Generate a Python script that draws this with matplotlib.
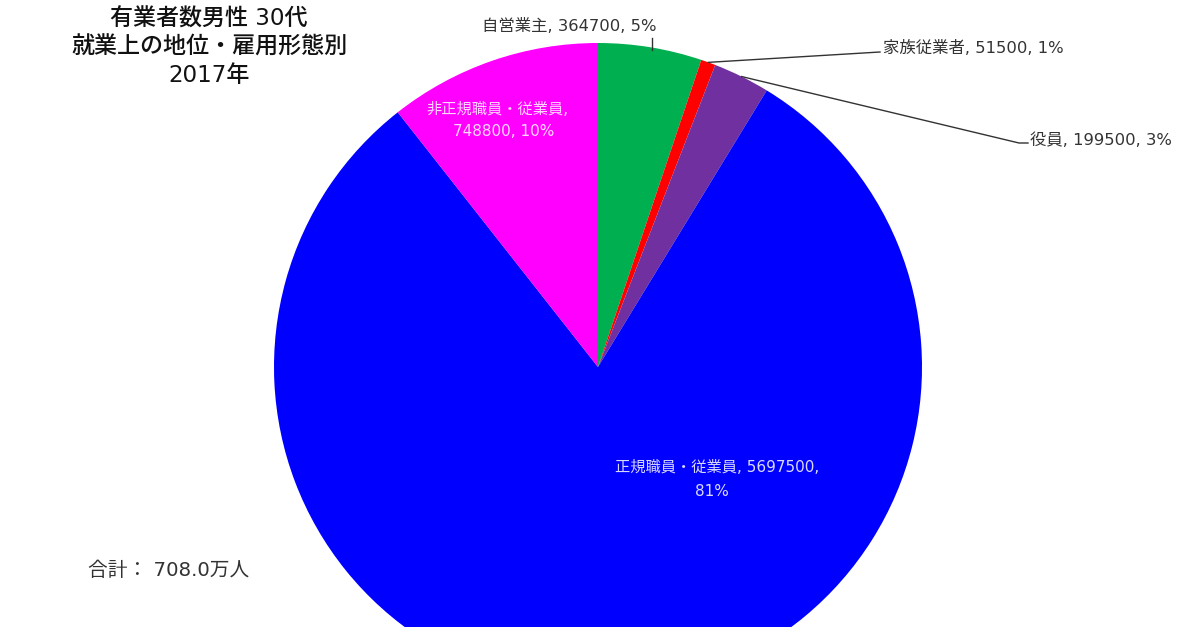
import numpy as np
import matplotlib.pyplot as plt

# Latin digits from DejaVu (wider, like the original), CJK falls back to Noto
plt.rcParams['font.family'] = ['DejaVu Sans', 'Noto Sans CJK JP']

# data
categories = ['自営業主', '家族従業者', '役員', '正規職員・従業員', '非正規職員・従業員']
values = [364700, 51500, 199500, 5697500, 748800]
percents = ['5%', '1%', '3%', '81%', '10%']
colors = ['#00B050', '#FF0000', '#7030A0', '#0000FF', '#FF00FF']
title_lines = ['有業者数男性 30代', '就業上の地位・雇用形態別', '2017年']
total_text = '合計： 708.0万人'

W, H = 1200, 627
fig = plt.figure(figsize=(12, 6.27), dpi=100)
ax = fig.add_axes([0, 0, 1, 1])

def py(y):
    # pixel row from top -> data y
    return H - y

cx, cy, R = 598, py(367), 324
wedges, _ = ax.pie(values, colors=colors, startangle=90, counterclock=False,
                   center=(cx, cy), radius=R, frame=True,
                   wedgeprops=dict(linewidth=0))
ax.set_xlim(0, W)
ax.set_ylim(0, H)
ax.axis('off')

def edge_point(w, r=R):
    a = np.deg2rad((w.theta1 + w.theta2) / 2)
    return cx + r * np.cos(a), cy + r * np.sin(a)

fs = 11.8
txt = '#333333'
# title
for i, t in enumerate(title_lines):
    ax.text(209, py(19 + i * 28), t, ha='center', va='center', fontsize=16.6,
            color='#111111', fontweight='medium')

# 自営業主
ax.plot([652, 652], [py(38), py(50)], color=txt, lw=1)
ax.text(569, py(26), f'{categories[0]}, {values[0]}, {percents[0]}',
        ha='center', va='center', fontsize=fs, color=txt)

# 家族従業者
x1, y1 = edge_point(wedges[1])
ax.plot([x1, 880], [y1, py(52)], color=txt, lw=1)
ax.text(883, py(48), f'{categories[1]}, {values[1]}, {percents[1]}',
        ha='left', va='center', fontsize=fs, color=txt)

# 役員
x2, y2 = edge_point(wedges[2])
ax.plot([x2, 1019, 1028], [y2, py(143), py(143)], color=txt, lw=1)
ax.text(1030, py(140), f'{categories[2]}, {values[2]}, {percents[2]}',
        ha='left', va='center', fontsize=fs, color=txt)

# inside labels
inner = dict(ha='center', va='center', fontsize=11, color='white', alpha=0.85)
ax.text(497, py(110), f'{categories[4]},', **inner)
ax.text(504, py(132), f'{values[4]}, {percents[4]}', **inner)
ax.text(717, py(467), f'{categories[3]}, {values[3]},', **inner)
ax.text(712, py(492), percents[3], **inner)

# total
ax.text(88, py(571), total_text, ha='left', va='center', fontsize=14.2, color=txt)

fig.savefig('out.png', dpi=100)
